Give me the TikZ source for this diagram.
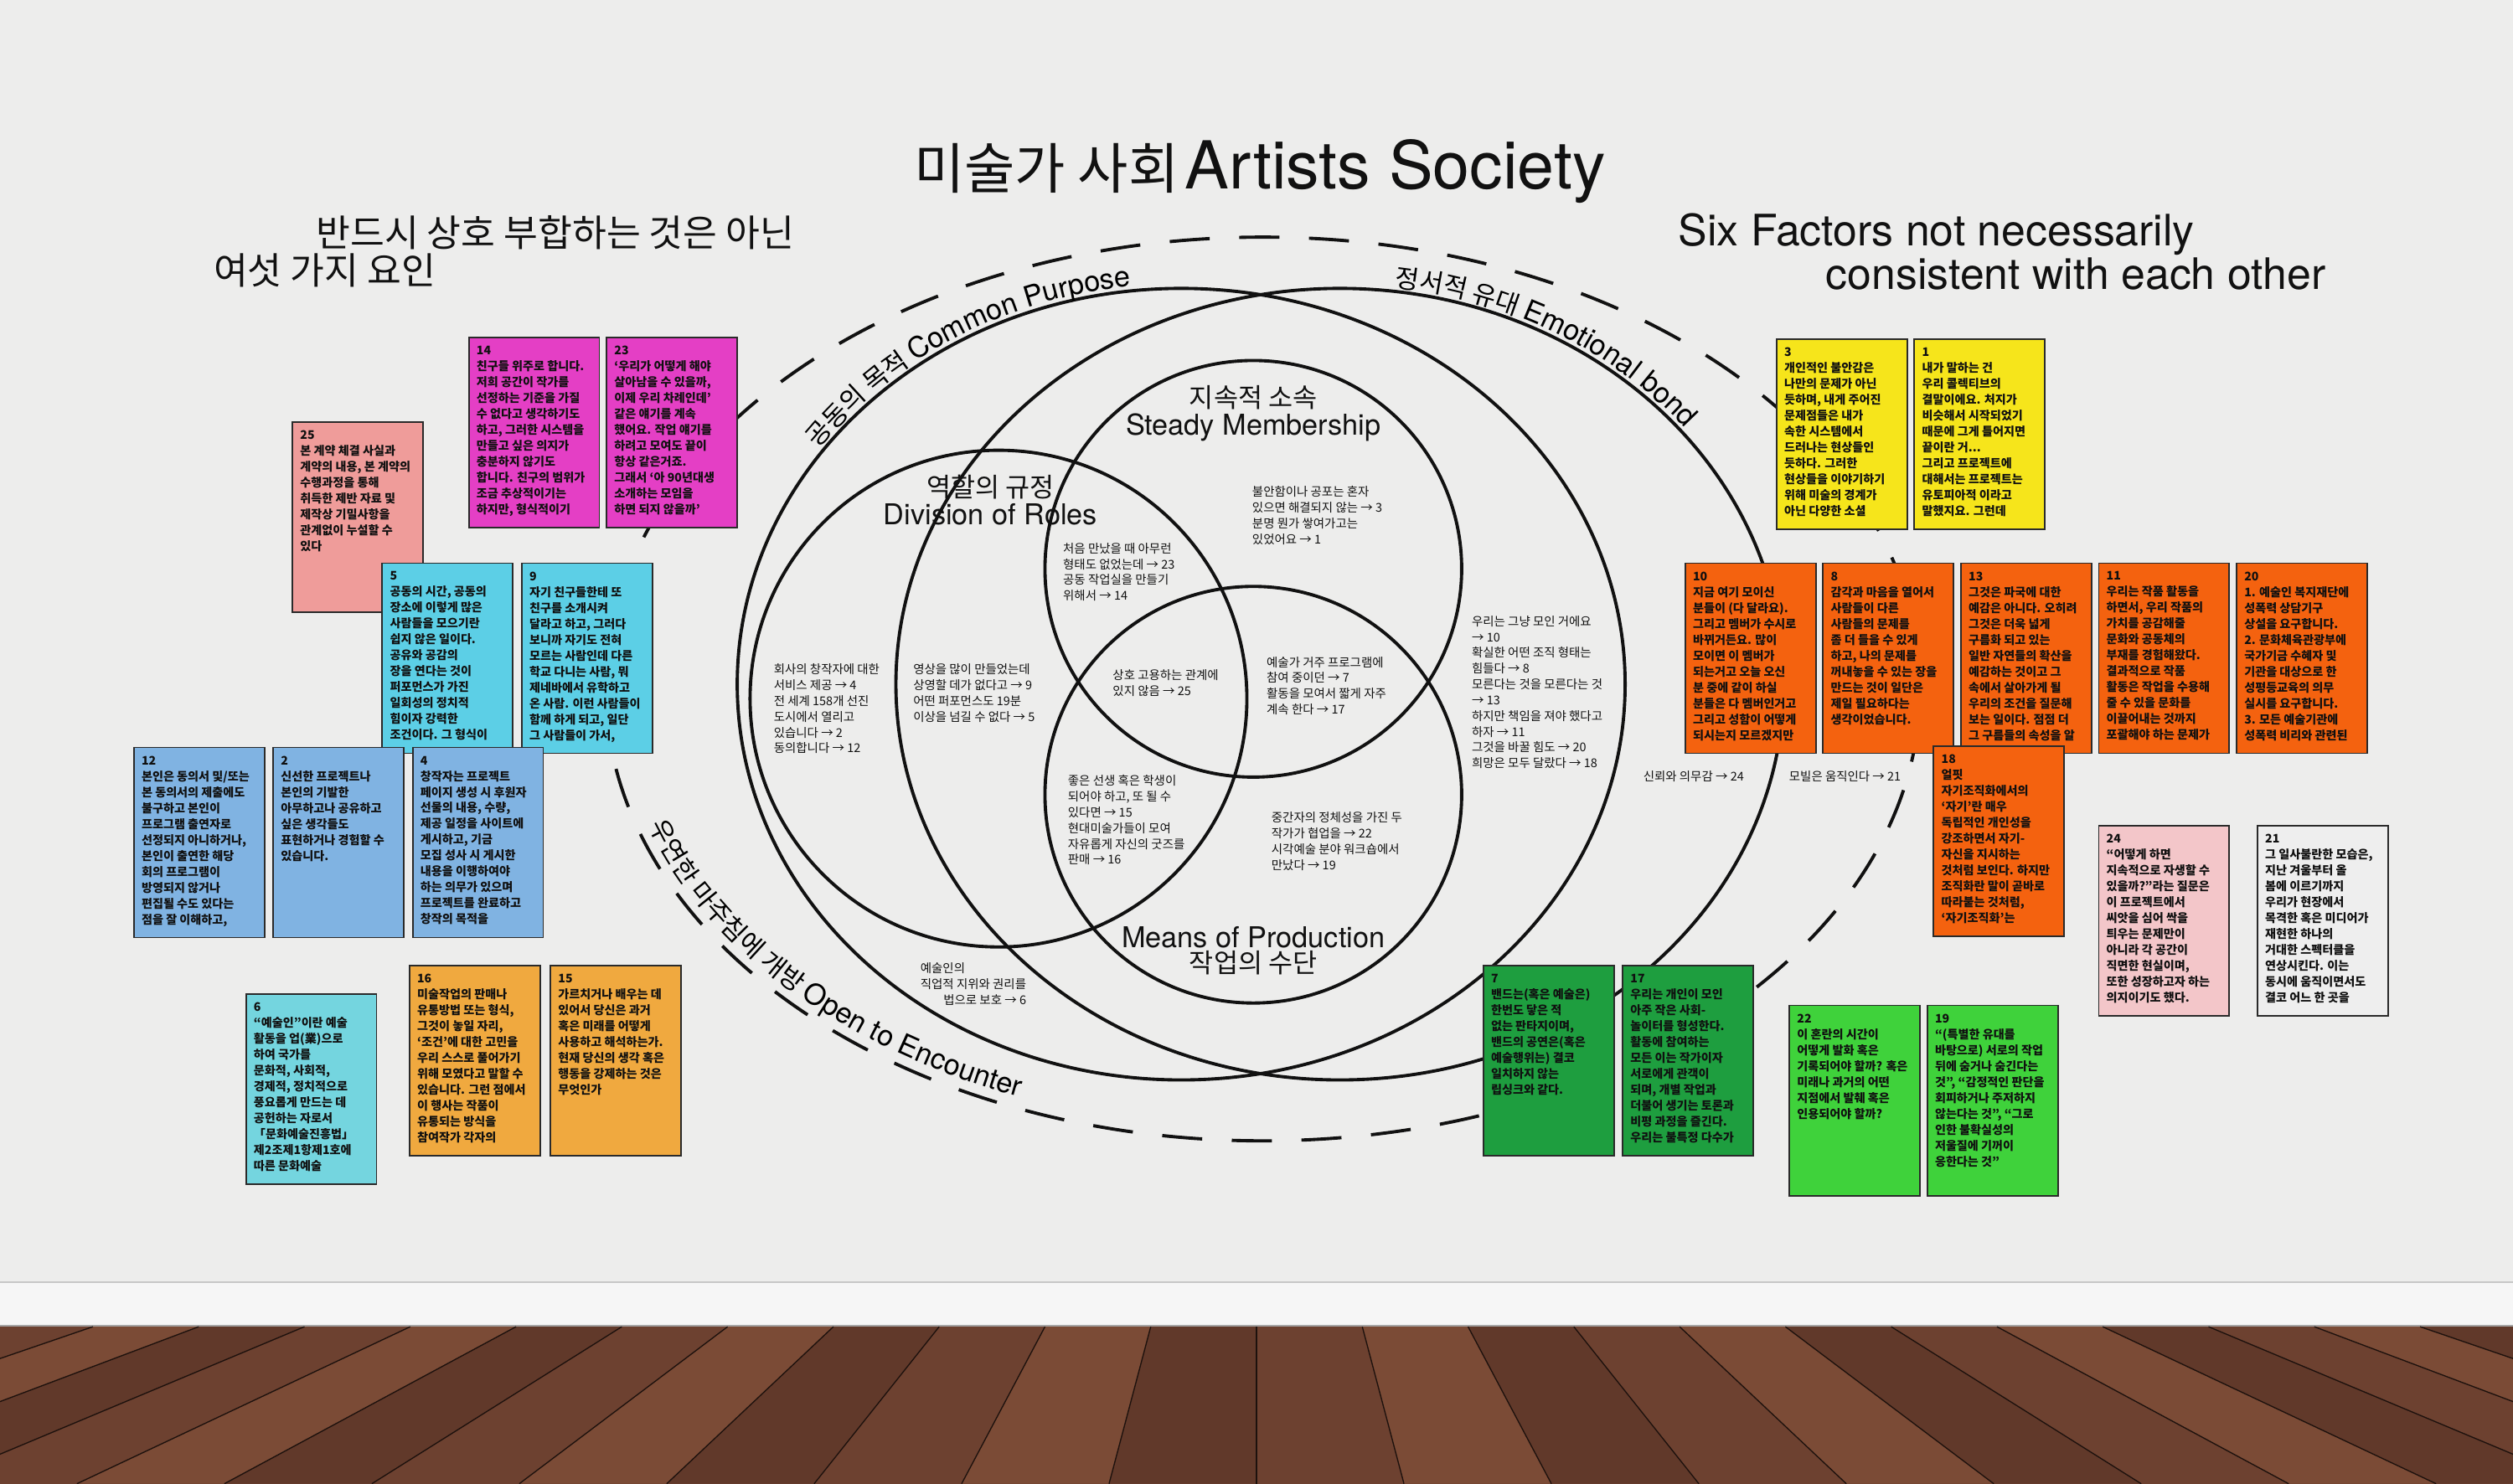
\documentclass[tikz,border=0pt]{standalone}
\usepackage{fontspec}
\setmainfont{Noto Sans CJK KR}
\newfontfamily\kr{Noto Sans CJK KR}
\newfontfamily\lat{TeX Gyre Heros}
\usetikzlibrary{decorations.text}

\definecolor{wall}{HTML}{EDEDEC}
\definecolor{ink}{HTML}{111111}
\definecolor{notebd}{HTML}{2A2A2A}
\definecolor{notetx}{HTML}{101010}
\definecolor{cSalmon}{HTML}{EF9C9A}
\definecolor{cMag}{HTML}{E43FC5}
\definecolor{cCyan}{HTML}{5CCFE6}
\definecolor{cBlue}{HTML}{80B3E2}
\definecolor{cCyanB}{HTML}{74D5DF}
\definecolor{cOrange}{HTML}{F0A93F}
\definecolor{cYellow}{HTML}{F6E51B}
\definecolor{cRed}{HTML}{F4620F}
\definecolor{cPink}{HTML}{F3C6C9}
\definecolor{cGray}{HTML}{EEEEEE}
\definecolor{cGreen}{HTML}{1E9E3F}
\definecolor{cLime}{HTML}{3FD23B}
\definecolor{plankA}{HTML}{6D4130}
\definecolor{plankB}{HTML}{7B4B36}
\definecolor{plankC}{HTML}{61392A}
\definecolor{board}{HTML}{F6F6F6}

\newcommand\notefont{\kr\bfseries\fontsize{4.2}{5.65}\selectfont}
\newcommand\vennfont{\kr\fontsize{4.3}{5.6}\selectfont}

\tikzset{
  venn/.style={line width=1.15pt, draw=ink},
  dashring/.style={line width=1.15pt, draw=ink, dash pattern=on 0.5cm off 0.37cm, dash phase=0.548cm},
  notebox/.style={draw=notebd, line width=0.55pt, minimum width=1.63cm, minimum height=2.374cm, inner sep=0pt, anchor=north west},
  notetext/.style={anchor=north west, inner sep=0pt, align=left, font=\notefont, text=notetx},
  venntext/.style={anchor=north west, inner sep=0pt, align=left, font=\vennfont, text=ink},
  biglabel/.style={inner sep=0pt, text=ink, align=center},
}

\newcommand\stickynote[5]{%
  \node[notebox, fill=#4] (n#1) at (#2,#3) {};
  \node[notetext] (t#1) at ([shift={(5,-5.5)}]n#1.north west) {#1\\#5};
}

\begin{document}
\begin{tikzpicture}[x=0.02cm, y=0.02cm]
\useasboundingbox (0,0) rectangle (1568,926);

% wall, baseboard, floor
\fill[wall] (0,126) rectangle (1568,926);
\fill[board] (0,98) rectangle (1568,126);
\draw[line width=0.6pt, draw=black!22] (0,126) -- (1568,126);
\draw[line width=0.5pt, draw=black!35] (0,98.5) -- (1568,98.5);
\fill[plankA] (0,0) rectangle (1568,98);
\foreach \i in {-13,...,12} {
  \pgfmathtruncatemacro\m{mod(\i+30,3)}
  \ifcase\m \def\pc{plankA}\or \def\pc{plankB}\else \def\pc{plankC}\fi
  \fill[fill=\pc] ({784+\i*66},98) -- ({784+(\i+1)*66},98) -- ({784+(\i+1)*92},0) -- ({784+\i*92},0) -- cycle;
  \draw[line width=0.4pt, draw=black!70!plankC] ({784+\i*66},98) -- ({784+\i*92},0);
}

% title and headers
\node[biglabel] (title) at (786,819) {{\kr\fontsize{19.5}{23}\selectfont 미술가 사회} {\lat\fontsize{23.5}{27}\selectfont Artists Society}};
\node[biglabel, anchor=west] (hdrKa) at (197,781) {\kr\fontsize{13.2}{16}\selectfont 반드시 상호 부합하는 것은 아닌};
\node[biglabel, anchor=west] (hdrKb) at (133,757) {\kr\fontsize{13.2}{16}\selectfont 여섯 가지 요인};
\node[biglabel, anchor=west] (hdrEa) at (1047,780) {\lat\fontsize{15.4}{18}\selectfont Six Factors not necessarily};
\node[biglabel, anchor=west] (hdrEb) at (1139,755) {\lat\fontsize{15.4}{18}\selectfont consistent with each other};

% ellipses
\draw[dashring] (788,496) ellipse [x radius=410, y radius=282];
\draw[venn] (737,499) ellipse [x radius=277, y radius=247];
\draw[venn] (836,499) ellipse [x radius=277, y radius=247];
\draw[venn] (623,490) circle [radius=155];
\draw[venn] (782,571) circle [radius=130];
\draw[venn] (782,430) circle [radius=130];

% curved labels
\path[shift={(737,499)}, decorate, decoration={text along path, text align=left,
  text={|\kr\fontsize{9.2}{11}\selectfont|공동의 목적 |\lat\fontsize{10.2}{12}\selectfont|Common Purpose}}]
  (144:280 and 250) arc[start angle=144, end angle=60, x radius=280, y radius=250];
\path[shift={(836,499)}, decorate, decoration={text along path, text align=left,
  text={|\kr\fontsize{9.2}{11}\selectfont|정서적 유대 |\lat\fontsize{10.2}{12}\selectfont|Emotional bond}}]
  (83:280 and 250) arc[start angle=83, end angle=0, x radius=280, y radius=250];
\path[shift={(788,496)}, decorate, decoration={text along path, text align=left,
  text={|\kr\fontsize{9.2}{11}\selectfont|우연한 마주침에 개방 |\lat\fontsize{10.2}{12}\selectfont|Open to Encounter}}]
  (198:403 and 275) arc[start angle=198, end angle=280, x radius=403, y radius=275];

% circle labels
\node[biglabel] (lSMk) at (782,678) {\kr\fontsize{9.4}{11}\selectfont 지속적 소속};
\node[biglabel] (lSMe) at (782,659) {\lat\fontsize{10.2}{12}\selectfont Steady Membership};
\node[biglabel] (lDRk) at (618,622) {\kr\fontsize{9.4}{11}\selectfont 역할의 규정};
\node[biglabel] (lDRe) at (618,605) {\lat\fontsize{10.2}{12}\selectfont Division of Roles};
\node[biglabel] (lMPe) at (782,341) {\lat\fontsize{10.2}{12}\selectfont Means of Production};
\node[biglabel] (lMPk) at (782,325) {\kr\fontsize{9.4}{11}\selectfont 작업의 수단};

% region texts
\node[venntext] (v3) at (781,622.8) {불안함이나 공포는 혼자\\있으면 해결되지 않는 → 3\\분명 뭔가 쌓여가고는\\있었어요 → 1};
\node[venntext] (v23) at (663,587.5) {처음 만났을 때 아무런\\형태도 없었는데 → 23\\공동 작업실을 만들기\\위해서 → 14};
\node[venntext] (v4) at (482.5,512) {회사의 창작자에 대한\\서비스 제공 → 4\\전 세계 158개 선진\\도시에서 열리고\\있습니다 → 2\\동의합니다 → 12};
\node[venntext] (v9) at (569.5,512) {영상을 많이 만들었는데\\상영할 데가 없다고 → 9\\어떤 퍼포먼스도 19분\\이상을 넘길 수 없다 → 5};
\node[venntext] (v25) at (694,508.5) {상호 고용하는 관계에\\있지 않음 → 25};
\node[venntext] (v7) at (790,516.5) {예술가 거주 프로그램에\\참여 중이던 → 7\\활동을 모여서 짧게 자주\\계속 한다 → 17};
\node[venntext] (v15) at (666,442.5) {좋은 선생 혹은 학생이\\되어야 하고, 또 될 수\\있다면 → 15\\현대미술가들이 모여\\자유롭게 자신의 굿즈를\\판매 → 16};
\node[venntext] (v22) at (793,419.5) {중간자의 정체성을 가진 두\\작가가 협업을 → 22\\시각예술 분야 워크숍에서\\만났다 → 19};
\node[venntext, align=right] (v6) at (574,325.5) {\rlap{예술인의}\phantom{직업적 지위와 권리를}\\직업적 지위와 권리를\\법으로 보호 → 6};
\node[venntext] (v10) at (918,542) {우리는 그냥 모인 거에요\\→ 10\\확실한 어떤 조직 형태는\\힘들다 → 8\\모른다는 것을 모른다는 것\\→ 13\\하지만 책임을 져야 했다고\\하자 → 11\\그것을 바꿀 힘도 → 20\\희망은 모두 달랐다 → 18};
\node[venntext] (v24) at (1025,445) {신뢰와 의무감 → 24};
\node[venntext] (v21) at (1116,445) {모빌은 움직인다 → 21};

% sticky notes, left
\stickynote{25}{182}{663}{cSalmon}{본 계약 체결 사실과\\계약의 내용, 본 계약의\\수행과정을 통해\\취득한 제반 자료 및\\제작상 기밀사항을\\관계없이 누설할 수\\있다}
\stickynote{14}{292}{716}{cMag}{친구들 위주로 합니다.\\저희 공간이 작가를\\선정하는 기준을 가질\\수 없다고 생각하기도\\하고, 그러한 시스템을\\만들고 싶은 의지가\\충분하지 않기도\\합니다. 친구의 범위가\\조금 추상적이기는\\하지만, 형식적이기}
\stickynote{23}{378}{716}{cMag}{‘우리가 어떻게 해야\\살아남을 수 있을까,\\이제 우리 차례인데’\\같은 얘기를 계속\\했어요. 작업 얘기를\\하려고 모여도 끝이\\항상 같은거죠.\\그래서 ‘아 90년대생\\소개하는 모임을\\하면 되지 않을까’}
\stickynote{5}{238}{575}{cCyan}{공동의 시간, 공동의\\장소에 이렇게 많은\\사람들을 모으기란\\쉽지 않은 일이다.\\공유와 공감의\\장을 연다는 것이\\퍼포먼스가 가진\\일회성의 정치적\\힘이자 강력한\\조건이다. 그 형식이}
\stickynote{9}{325}{575}{cCyan}{자기 친구들한테 또\\친구를 소개시켜\\달라고 하고, 그러다\\보니까 자기도 전혀\\모르는 사람인데 다른\\학교 다니는 사람, 뭐\\제네바에서 유학하고\\온 사람. 이런 사람들이\\함께 하게 되고, 일단\\그 사람들이 가서,}
\stickynote{12}{83}{460}{cBlue}{본인은 동의서 및/또는\\본 동의서의 제출에도\\불구하고 본인이\\프로그램 출연자로\\선정되지 아니하거나,\\본인이 출연한 해당\\회의 프로그램이\\방영되지 않거나\\편집될 수도 있다는\\점을 잘 이해하고,}
\stickynote{2}{170}{460}{cBlue}{신선한 프로젝트나\\본인의 기발한\\아무하고나 공유하고\\싶은 생각들도\\표현하거나 경험할 수\\있습니다.}
\stickynote{4}{257}{460}{cBlue}{창작자는 프로젝트\\페이지 생성 시 후원자\\선물의 내용, 수량,\\제공 일정을 사이트에\\게시하고, 기금\\모집 성사 시 게시한\\내용을 이행하여야\\하는 의무가 있으며\\프로젝트를 완료하고\\창작의 목적을}
\stickynote{6}{153}{306}{cCyanB}{“예술인”이란 예술\\활동을 업(業)으로\\하여 국가를\\문화적, 사회적,\\경제적, 정치적으로\\풍요롭게 만드는 데\\공헌하는 자로서\\「문화예술진흥법」\\제2조제1항제1호에\\따른 문화예술}
\stickynote{16}{255}{324}{cOrange}{미술작업의 판매나\\유통방법 또는 형식,\\그것이 놓일 자리,\\‘조건’에 대한 고민을\\우리 스스로 풀어가기\\위해 모였다고 말할 수\\있습니다. 그런 점에서\\이 행사는 작품이\\유통되는 방식을\\참여작가 각자의}
\stickynote{15}{343}{324}{cOrange}{가르치거나 배우는 데\\있어서 당신은 과거\\혹은 미래를 어떻게\\사용하고 해석하는가.\\현재 당신의 생각 혹은\\행동을 강제하는 것은\\무엇인가}

% sticky notes, right
\stickynote{3}{1108}{715}{cYellow}{개인적인 불안감은\\나만의 문제가 아닌\\듯하며, 내게 주어진\\문제점들은 내가\\속한 시스템에서\\드러나는 현상들인\\듯하다. 그러한\\현상들을 이야기하기\\위해 미술의 경계가\\아닌 다양한 소셜}
\stickynote{1}{1194}{715}{cYellow}{내가 말하는 건\\우리 콜렉티브의\\결말이에요. 처지가\\비슷해서 시작되었기\\때문에 그게 틀어지면\\끝이란 거...\\그리고 프로젝트에\\대해서는 프로젝트는\\유토피아적 이라고\\말했지요. 그런데}
\stickynote{10}{1051}{575}{cRed}{지금 여기 모이신\\분들이 (다 달라요).\\그리고 멤버가 수시로\\바뀌거든요. 많이\\모이면 이 멤버가\\되는거고 오늘 오신\\분 중에 같이 하실\\분들은 다 멤버인거고\\그리고 성함이 어떻게\\되시는지 모르겠지만}
\stickynote{8}{1137}{575}{cRed}{감각과 마음을 열어서\\사람들이 다른\\사람들의 문제를\\좀 더 들을 수 있게\\하고, 나의 문제를\\꺼내놓을 수 있는 장을\\만드는 것이 일단은\\제일 필요하다는\\생각이었습니다.}
\stickynote{13}{1223}{575}{cRed}{그것은 파국에 대한\\예감은 아니다. 오히려\\그것은 더욱 넓게\\구름화 되고 있는\\일반 자연들의 확산을\\예감하는 것이고 그\\속에서 살아가게 될\\우리의 조건을 질문해\\보는 일이다. 점점 더\\그 구름들의 속성을 알}
\stickynote{11}{1309}{575}{cRed}{우리는 작품 활동을\\하면서, 우리 작품의\\가치를 공감해줄\\문화와 공동체의\\부재를 경험해왔다.\\결과적으로 작품\\활동은 작업을 수용해\\줄 수 있을 문화를\\이끌어내는 것까지\\포괄해야 하는 문제가}
\stickynote{20}{1395}{575}{cRed}{1. 예술인 복지재단에\\성폭력 상담기구\\상설을 요구합니다.\\2. 문화체육관광부에\\국가기금 수혜자 및\\기관을 대상으로 한\\성평등교육의 의무\\실시를 요구합니다.\\3. 모든 예술기관에\\성폭력 비리와 관련된}
\stickynote{18}{1206}{461}{cRed}{얼핏\\자기조직화에서의\\‘자기’란 매우\\독립적인 개인성을\\강조하면서 자기-\\자신을 지시하는\\것처럼 보인다. 하지만\\조직화란 말이 곧바로\\따라붙는 것처럼,\\‘자기조직화’는}
\stickynote{24}{1309}{411}{cPink}{“어떻게 하면\\지속적으로 자생할 수\\있을까?”라는 질문은\\이 프로젝트에서\\씨앗을 심어 싹을\\틔우는 문제만이\\아니라 각 공간이\\직면한 현실이며,\\또한 성장하고자 하는\\의지이기도 했다.}
\stickynote{21}{1408}{411}{cGray}{그 일사불란한 모습은,\\지난 겨울부터 올\\봄에 이르기까지\\우리가 현장에서\\목격한 혹은 미디어가\\재현한 하나의\\거대한 스펙터클을\\연상시킨다. 이는\\동시에 움직이면서도\\결코 어느 한 곳을}
\stickynote{7}{925}{324}{cGreen}{밴드는(혹은 예술은)\\한번도 닿은 적\\없는 판타지이며,\\밴드의 공연은(혹은\\예술행위는) 결코\\일치하지 않는\\립싱크와 같다.}
\stickynote{17}{1012}{324}{cGreen}{우리는 개인이 모인\\아주 작은 사회-\\놀이터를 형성한다.\\활동에 참여하는\\모든 이는 작가이자\\서로에게 관객이\\되며, 개별 작업과\\더불어 생기는 토론과\\비평 과정을 즐긴다.\\우리는 불특정 다수가}
\stickynote{22}{1116}{299}{cLime}{이 혼란의 시간이\\어떻게 발화 혹은\\기록되어야 할까? 혹은\\미래나 과거의 어떤\\지점에서 발췌 혹은\\인용되어야 할까?}
\stickynote{19}{1202}{299}{cLime}{“(특별한 유대를\\바탕으로) 서로의 작업\\뒤에 숨거나 숨긴다는\\것”, “감정적인 판단을\\회피하거나 주저하지\\않는다는 것”, “그로\\인한 불확실성의\\저울질에 기꺼이\\응한다는 것”}
\end{tikzpicture}
\end{document}
